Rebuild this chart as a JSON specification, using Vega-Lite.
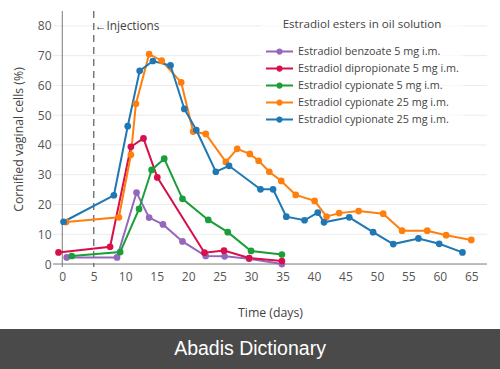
{
  "$schema": "https://vega.github.io/schema/vega-lite/v6.json",
  "padding": {"left": 0, "right": 0, "top": 10, "bottom": 0},
  "background": "white",
  "spacing": 10,
  "columns": 1,
  "center": false,
  "config": {
    "font": "Open Sans",
    "view": {"stroke": null},
    "axis": {
      "domain": false,
      "ticks": false,
      "gridColor": "#ebebeb",
      "gridWidth": 1,
      "labelColor": "#555",
      "labelFont": "Open Sans",
      "labelFontSize": 12,
      "labelOverlap": false,
      "titleColor": "#444",
      "titleFont": "Open Sans",
      "titleFontSize": 12.3,
      "titleFontWeight": "normal"
    },
    "legend": {
      "labelFont": "Open Sans",
      "titleFont": "Open Sans"
    }
  },
  "datasets": {
    "series": [
      {"series": "Estradiol benzoate 5 mg i.m.", "day": 0.7, "pct": 2.2},
      {"series": "Estradiol benzoate 5 mg i.m.", "day": 8.7, "pct": 2.2},
      {"series": "Estradiol benzoate 5 mg i.m.", "day": 11.8, "pct": 24.0},
      {"series": "Estradiol benzoate 5 mg i.m.", "day": 13.8, "pct": 15.6},
      {"series": "Estradiol benzoate 5 mg i.m.", "day": 16.0, "pct": 13.3},
      {"series": "Estradiol benzoate 5 mg i.m.", "day": 19.1, "pct": 7.6},
      {"series": "Estradiol benzoate 5 mg i.m.", "day": 22.8, "pct": 2.7},
      {"series": "Estradiol benzoate 5 mg i.m.", "day": 25.8, "pct": 2.6},
      {"series": "Estradiol benzoate 5 mg i.m.", "day": 29.7, "pct": 1.8},
      {"series": "Estradiol benzoate 5 mg i.m.", "day": 34.9, "pct": 0.0},

      {"series": "Estradiol dipropionate 5 mg i.m.", "day": -0.6, "pct": 3.9},
      {"series": "Estradiol dipropionate 5 mg i.m.", "day": 7.6, "pct": 5.8},
      {"series": "Estradiol dipropionate 5 mg i.m.", "day": 10.9, "pct": 39.4},
      {"series": "Estradiol dipropionate 5 mg i.m.", "day": 12.9, "pct": 42.2},
      {"series": "Estradiol dipropionate 5 mg i.m.", "day": 15.1, "pct": 29.1},
      {"series": "Estradiol dipropionate 5 mg i.m.", "day": 22.6, "pct": 3.8},
      {"series": "Estradiol dipropionate 5 mg i.m.", "day": 25.7, "pct": 4.5},
      {"series": "Estradiol dipropionate 5 mg i.m.", "day": 29.7, "pct": 2.0},
      {"series": "Estradiol dipropionate 5 mg i.m.", "day": 34.9, "pct": 1.0},

      {"series": "Estradiol cypionate 5 mg i.m.", "day": 1.5, "pct": 2.7},
      {"series": "Estradiol cypionate 5 mg i.m.", "day": 9.2, "pct": 4.0},
      {"series": "Estradiol cypionate 5 mg i.m.", "day": 12.2, "pct": 18.5},
      {"series": "Estradiol cypionate 5 mg i.m.", "day": 14.2, "pct": 31.6},
      {"series": "Estradiol cypionate 5 mg i.m.", "day": 16.2, "pct": 35.4},
      {"series": "Estradiol cypionate 5 mg i.m.", "day": 19.1, "pct": 21.9},
      {"series": "Estradiol cypionate 5 mg i.m.", "day": 23.2, "pct": 14.8},
      {"series": "Estradiol cypionate 5 mg i.m.", "day": 26.3, "pct": 10.7},
      {"series": "Estradiol cypionate 5 mg i.m.", "day": 30.0, "pct": 4.4},
      {"series": "Estradiol cypionate 5 mg i.m.", "day": 34.9, "pct": 3.2},

      {"series": "Estradiol cypionate 25 mg i.m. #1", "day": 0.6, "pct": 14.1},
      {"series": "Estradiol cypionate 25 mg i.m. #1", "day": 9.0, "pct": 15.7},
      {"series": "Estradiol cypionate 25 mg i.m. #1", "day": 10.9, "pct": 36.7},
      {"series": "Estradiol cypionate 25 mg i.m. #1", "day": 11.7, "pct": 53.8},
      {"series": "Estradiol cypionate 25 mg i.m. #1", "day": 13.8, "pct": 70.5},
      {"series": "Estradiol cypionate 25 mg i.m. #1", "day": 15.8, "pct": 68.3},
      {"series": "Estradiol cypionate 25 mg i.m. #1", "day": 18.9, "pct": 61.0},
      {"series": "Estradiol cypionate 25 mg i.m. #1", "day": 20.8, "pct": 44.5},
      {"series": "Estradiol cypionate 25 mg i.m. #1", "day": 22.8, "pct": 43.7},
      {"series": "Estradiol cypionate 25 mg i.m. #1", "day": 26.0, "pct": 34.3},
      {"series": "Estradiol cypionate 25 mg i.m. #1", "day": 27.8, "pct": 38.7},
      {"series": "Estradiol cypionate 25 mg i.m. #1", "day": 29.8, "pct": 37.0},
      {"series": "Estradiol cypionate 25 mg i.m. #1", "day": 31.2, "pct": 34.7},
      {"series": "Estradiol cypionate 25 mg i.m. #1", "day": 32.9, "pct": 31.0},
      {"series": "Estradiol cypionate 25 mg i.m. #1", "day": 34.8, "pct": 27.9},
      {"series": "Estradiol cypionate 25 mg i.m. #1", "day": 37.1, "pct": 23.2},
      {"series": "Estradiol cypionate 25 mg i.m. #1", "day": 40.1, "pct": 21.2},
      {"series": "Estradiol cypionate 25 mg i.m. #1", "day": 42.0, "pct": 15.9},
      {"series": "Estradiol cypionate 25 mg i.m. #1", "day": 44.0, "pct": 17.1},
      {"series": "Estradiol cypionate 25 mg i.m. #1", "day": 47.1, "pct": 17.8},
      {"series": "Estradiol cypionate 25 mg i.m. #1", "day": 51.0, "pct": 16.9},
      {"series": "Estradiol cypionate 25 mg i.m. #1", "day": 54.0, "pct": 11.2},
      {"series": "Estradiol cypionate 25 mg i.m. #1", "day": 58.0, "pct": 11.2},
      {"series": "Estradiol cypionate 25 mg i.m. #1", "day": 61.0, "pct": 9.7},
      {"series": "Estradiol cypionate 25 mg i.m. #1", "day": 65.0, "pct": 8.1},

      {"series": "Estradiol cypionate 25 mg i.m. #2", "day": 0.2, "pct": 14.2},
      {"series": "Estradiol cypionate 25 mg i.m. #2", "day": 8.2, "pct": 23.1},
      {"series": "Estradiol cypionate 25 mg i.m. #2", "day": 10.4, "pct": 46.3},
      {"series": "Estradiol cypionate 25 mg i.m. #2", "day": 12.3, "pct": 64.9},
      {"series": "Estradiol cypionate 25 mg i.m. #2", "day": 14.4, "pct": 68.2},
      {"series": "Estradiol cypionate 25 mg i.m. #2", "day": 17.2, "pct": 66.7},
      {"series": "Estradiol cypionate 25 mg i.m. #2", "day": 19.4, "pct": 52.1},
      {"series": "Estradiol cypionate 25 mg i.m. #2", "day": 21.3, "pct": 45.0},
      {"series": "Estradiol cypionate 25 mg i.m. #2", "day": 24.4, "pct": 31.0},
      {"series": "Estradiol cypionate 25 mg i.m. #2", "day": 26.5, "pct": 33.0},
      {"series": "Estradiol cypionate 25 mg i.m. #2", "day": 31.5, "pct": 25.1},
      {"series": "Estradiol cypionate 25 mg i.m. #2", "day": 33.5, "pct": 25.1},
      {"series": "Estradiol cypionate 25 mg i.m. #2", "day": 35.6, "pct": 15.9},
      {"series": "Estradiol cypionate 25 mg i.m. #2", "day": 38.5, "pct": 14.7},
      {"series": "Estradiol cypionate 25 mg i.m. #2", "day": 40.6, "pct": 17.3},
      {"series": "Estradiol cypionate 25 mg i.m. #2", "day": 41.6, "pct": 14.0},
      {"series": "Estradiol cypionate 25 mg i.m. #2", "day": 45.6, "pct": 15.7},
      {"series": "Estradiol cypionate 25 mg i.m. #2", "day": 49.4, "pct": 10.7},
      {"series": "Estradiol cypionate 25 mg i.m. #2", "day": 52.6, "pct": 6.7},
      {"series": "Estradiol cypionate 25 mg i.m. #2", "day": 56.6, "pct": 8.6},
      {"series": "Estradiol cypionate 25 mg i.m. #2", "day": 59.9, "pct": 6.8},
      {"series": "Estradiol cypionate 25 mg i.m. #2", "day": 63.6, "pct": 3.9}
    ]
  },
  "concat": [
    {
      "width": 487,
      "height": 256,
      "layer": [
        {
          "data": {"values": [{"pct": 10}, {"pct": 20}, {"pct": 30}, {"pct": 40}, {"pct": 50}, {"pct": 60}, {"pct": 70}, {"pct": 80}]},
          "mark": {"type": "rule", "color": "#ebebeb", "strokeWidth": 1},
          "encoding": {
            "y": {"field": "pct", "type": "quantitative", "scale": {"domain": [-1, 85], "nice": false, "zero": false},
                  "axis": {"title": "Cornified vaginal cells (%)", "grid": false, "offset": -53, "values": [0,10,20,30,40,50,60,70,80], "labelPadding": 2, "titlePadding": 12}},
            "x": {"datum": -1.5, "type": "quantitative", "scale": {"domain": [-9.9, 67.5], "nice": false, "zero": false},
                  "axis": {"title": "Time (days)", "titleX": 270, "values": [0,5,10,15,20,25,30,35,40,45,50,55,60,65], "labelPadding": 4, "titlePadding": 24}},
            "x2": {"datum": 67.5}
          }
        },
        {
          "data": {"values": [{"pct": 0, "day": 0}]},
          "layer": [
            {
              "mark": {"type": "rule", "color": "#7a7a7a", "strokeWidth": 1},
              "encoding": {
                "y": {"field": "pct", "type": "quantitative", "scale": {"domain": [-1, 85], "nice": false, "zero": false},
                      "axis": {"title": "Cornified vaginal cells (%)", "grid": false, "offset": -53, "values": [0,10,20,30,40,50,60,70,80], "labelPadding": 2, "titlePadding": 12}},
                "x": {"datum": -1.5, "type": "quantitative", "scale": {"domain": [-9.9, 67.5], "nice": false, "zero": false},
                      "axis": {"title": "Time (days)", "titleX": 270, "values": [0,5,10,15,20,25,30,35,40,45,50,55,60,65], "labelPadding": 4, "titlePadding": 24}},
                "x2": {"datum": 67.5}
              }
            },
            {
              "mark": {"type": "rule", "color": "#7a7a7a", "strokeWidth": 1},
              "encoding": {
                "x": {"field": "day", "type": "quantitative", "scale": {"domain": [-9.9, 67.5], "nice": false, "zero": false},
                      "axis": {"title": "Time (days)", "titleX": 270, "values": [0,5,10,15,20,25,30,35,40,45,50,55,60,65], "labelPadding": 4, "titlePadding": 24}}
              }
            }
          ]
        },
        {
          "data": {"values": [{"day": 5, "pct": 80, "label": "←Injections"}]},
          "layer": [
            {
              "mark": {"type": "rule", "color": "#666", "strokeWidth": 1.3, "strokeDash": [7, 5]},
              "encoding": {
                "x": {"field": "day", "type": "quantitative", "scale": {"domain": [-9.9, 67.5], "nice": false, "zero": false},
                      "axis": {"title": "Time (days)", "titleX": 270, "values": [0,5,10,15,20,25,30,35,40,45,50,55,60,65], "labelPadding": 4, "titlePadding": 24}}
              }
            },
            {
              "mark": {"type": "text", "align": "left", "baseline": "middle", "dx": 1, "fontSize": 11.8, "color": "#444", "font": "Open Sans"},
              "encoding": {
                "x": {"field": "day", "type": "quantitative", "scale": {"domain": [-9.9, 67.5], "nice": false, "zero": false},
                      "axis": {"title": "Time (days)", "titleX": 270, "values": [0,5,10,15,20,25,30,35,40,45,50,55,60,65], "labelPadding": 4, "titlePadding": 24}},
                "y": {"field": "pct", "type": "quantitative", "scale": {"domain": [-1, 85], "nice": false, "zero": false},
                      "axis": {"title": "Cornified vaginal cells (%)", "grid": false, "offset": -53, "values": [0,10,20,30,40,50,60,70,80], "labelPadding": 2, "titlePadding": 12}},
                "text": {"field": "label"}
              }
            }
          ]
        },
        {
          "data": {"name": "series"},
          "mark": {"type": "line", "strokeWidth": 2, "point": {"size": 45, "filled": true, "opacity": 1}},
          "encoding": {
            "x": {"field": "day", "type": "quantitative", "scale": {"domain": [-9.9, 67.5], "nice": false, "zero": false},
                  "axis": {"title": "Time (days)", "titleX": 270, "values": [0,5,10,15,20,25,30,35,40,45,50,55,60,65], "labelPadding": 4, "titlePadding": 24}},
            "y": {"field": "pct", "type": "quantitative", "scale": {"domain": [-1, 85], "nice": false, "zero": false},
                  "axis": {"title": "Cornified vaginal cells (%)", "grid": false, "offset": -53, "values": [0,10,20,30,40,50,60,70,80], "labelPadding": 2, "titlePadding": 12}},
            "color": {
              "field": "series",
              "type": "nominal",
              "scale": {
                "domain": [
                  "Estradiol benzoate 5 mg i.m.",
                  "Estradiol dipropionate 5 mg i.m.",
                  "Estradiol cypionate 5 mg i.m.",
                  "Estradiol cypionate 25 mg i.m. #1",
                  "Estradiol cypionate 25 mg i.m. #2"
                ],
                "range": ["#9467bd", "#d80f48", "#1a9e38", "#ff7f0e", "#1f77b4"]
              },
              "legend": {
                "title": "Estradiol esters in oil solution",
                "orient": "none",
                "legendX": 261,
                "legendY": 4,
                "padding": 4,
                "fillColor": "rgba(255,255,255,0.7)",
                "titleFontSize": 11.6,
                "titleFontWeight": "normal",
                "titleColor": "#444",
                "titlePadding": 12.5,
                "titleAnchor": "middle",
                "labelFontSize": 10.8,
                "labelColor": "#444",
                "labelOffset": 4,
                "labelLimit": 300,
                "labelExpr": "split(datum.label, ' #')[0]",
                "symbolType": "M-1,0H1M-0.16,0a0.16,0.16 0 1,0 0.32,0a0.16,0.16 0 1,0 -0.32,0",
                "symbolSize": 729,
                "symbolStrokeWidth": 2,
                "symbolFillColor": null,
                "clipHeight": 17,
                "rowPadding": 0
              }
            }
          }
        }
      ]
    },
    {
      "width": 500,
      "height": 40,
      "view": {"fill": "#4a4a4a", "stroke": null},
      "data": {"values": [{"label": "Abadis Dictionary"}]},
      "mark": {"type": "text", "color": "white", "font": "Liberation Sans", "fontSize": 19.5, "baseline": "middle", "align": "center"},
      "encoding": {"text": {"field": "label"}}
    }
  ]
}
